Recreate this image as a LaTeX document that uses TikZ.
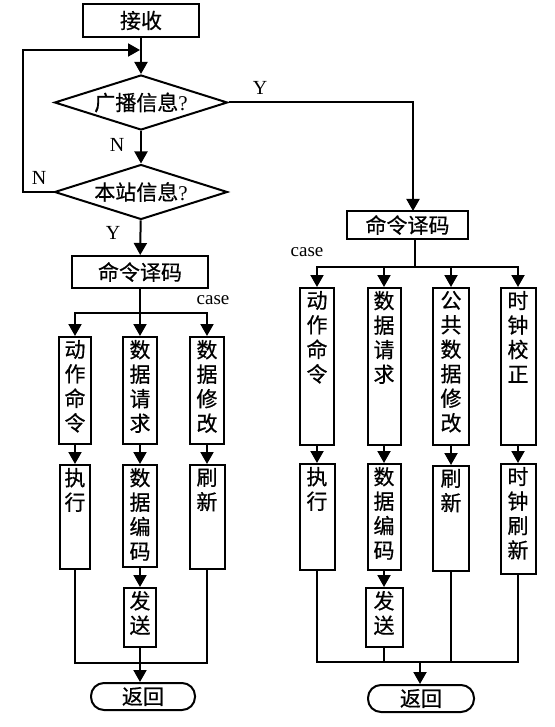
\documentclass[tikz,border=0pt]{standalone}
\usepackage{fontspec}
\setmainfont{Liberation Serif}
\newfontfamily\cjk[FakeBold=0.6]{Noto Sans CJK SC}
\usetikzlibrary{arrows.meta,shapes.geometric}
\newcommand{\myvtext}[3]{\parbox[c][#2][t]{#1}{\centering\vspace*{3pt}\cjk #3\par}}
\begin{document}
\begin{tikzpicture}[x=1pt,y=-1pt,
  line width=2pt,
  arr/.style={-{Triangle[width=13pt,length=12pt]}},
  box/.style={draw,inner sep=0pt,font=\cjk\fontsize{21}{24.5}\selectfont},
  colbox/.style={draw,inner sep=0pt,font=\fontsize{21}{24.5}\selectfont},
  dia/.style={draw,diamond,shape aspect=3.1,inner sep=0pt,minimum width=173pt,minimum height=55pt,font=\fontsize{21}{24}\selectfont},
  lbl/.style={font=\fontsize{20}{20}\selectfont,inner sep=0pt},
  ret/.style={draw,rounded corners=13pt,inner sep=0pt,minimum height=27pt,font=\cjk\fontsize{21}{24}\selectfont}
]
\useasboundingbox (0,0) rectangle (554,727);

% top part
\node[box,minimum width=116pt,minimum height=33pt] (recv) at (141,20.5) {接收};
\node[dia] (d1) at (141,102.5) {{\cjk 广播信息}?};
\node[dia] (d2) at (141,192) {{\cjk 本站信息}?};
\node[box,minimum width=136pt,minimum height=32pt] (decL) at (140,272) {命令译码};
\node[box,minimum width=121pt,minimum height=28pt] (decR) at (407.5,225) {命令译码};

\node[lbl] (yR) at (260,88) {Y};
\node[lbl] (n1) at (117,145) {N};
\node[lbl] (n2) at (39,178) {N};
\node[lbl] (y2) at (113,233) {Y};

\draw[arr] (recv) -- (d1);
\coordinate (lp) at (23,50);
\coordinate (loopend) at (140,50);
\draw[arr] (d2.west) -| (lp) -- (loopend);
\draw[arr] (d1) -- (d2);
\draw[arr] (d2) -- (decL);
\coordinate (rx) at (413,211);
\draw[arr] (d1.east) -| (rx);

% left branch
\node[colbox] (a1) at (75,390.5) {\myvtext{32pt}{107pt}{动\\作\\命\\令}};
\node[colbox] (a2) at (140,390.5) {\myvtext{34pt}{107pt}{数\\据\\请\\求}};
\node[colbox] (a3) at (207,390.5) {\myvtext{34pt}{107pt}{数\\据\\修\\改}};
\node[colbox] (b1) at (75,517) {\myvtext{30pt}{104pt}{执\\行}};
\node[colbox] (b2) at (140,516) {\myvtext{34pt}{102pt}{数\\据\\编\\码}};
\node[colbox] (b3) at (207,517) {\myvtext{35pt}{104pt}{刷\\新}};
\node[colbox] (s1) at (140,617.5) {\myvtext{32pt}{59pt}{发\\送}};
\node[ret,minimum width=104pt] (r1) at (143,696.5) {返回};
\node[lbl,font=\fontsize{19}{19}\selectfont] (caseL) at (213,300) {case};

\coordinate (bL) at (140,313);
\draw (decL) -- (bL);
\draw[arr] (bL) -| (a1);
\draw[arr] (bL) -- (a2);
\draw[arr] (bL) -| (a3);
\draw[arr] (a1) -- (b1);
\draw[arr] (a2) -- (b2);
\draw[arr] (a3) -- (b3);
\draw[arr] (b2) -- (s1);
\coordinate (jL) at (140,663);
\draw (b1) |- (jL);
\draw (b3) |- (jL);
\draw (s1) -- (jL);
\draw[arr] (jL) -- (jL |- r1.north);

% right branch
\node[colbox] (c1) at (317,366.5) {\myvtext{34pt}{157pt}{动\\作\\命\\令}};
\node[colbox] (c2) at (384,366.5) {\myvtext{33pt}{157pt}{数\\据\\请\\求}};
\node[colbox] (c3) at (451,366.5) {\myvtext{36pt}{157pt}{公\\共\\数\\据\\修\\改}};
\node[colbox] (c4) at (518,366.5) {\myvtext{35pt}{157pt}{时\\钟\\校\\正}};
\node[colbox] (e1) at (317,517) {\myvtext{35pt}{106pt}{执\\行}};
\node[colbox] (e2) at (384,517) {\myvtext{33pt}{106pt}{数\\据\\编\\码}};
\node[colbox] (e3) at (451,518.5) {\myvtext{36pt}{105pt}{刷\\新}};
\node[colbox] (e4) at (518,519) {\myvtext{35pt}{110pt}{时\\钟\\刷\\新}};
\node[colbox] (s2) at (384,617.5) {\myvtext{37pt}{59pt}{发\\送}};
\node[ret,minimum width=106pt] (r2) at (421,698.5) {返回};
\node[lbl,font=\fontsize{19}{19}\selectfont] (caseR) at (307,252) {case};

\coordinate (bR) at (415,267);
\draw (bR |- decR.south) -- (bR);
\draw[arr] (bR) -| (c1);
\draw[arr] (bR) -| (c2);
\draw[arr] (bR) -| (c3);
\draw[arr] (bR) -| (c4);
\draw[arr] (c1) -- (e1);
\draw[arr] (c2) -- (e2);
\draw[arr] (c3) -- (e3);
\draw[arr] (c4) -- (e4);
\draw[arr] (e2) -- (s2);
\coordinate (jR) at (420,662);
\draw (e1) |- (jR);
\draw (e4) |- (jR);
\draw (e3) -- (e3 |- jR);
\draw (s2) -- (s2 |- jR);
\draw[arr] (jR) -- (jR |- r2.north);
\end{tikzpicture}
\end{document}
